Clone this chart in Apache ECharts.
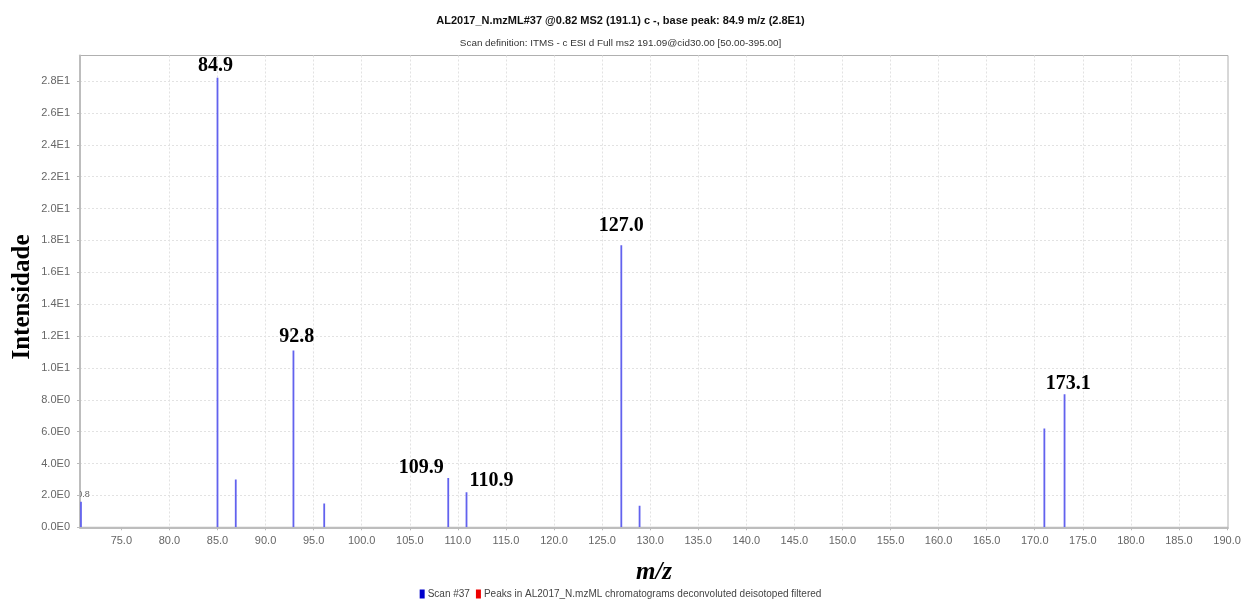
<!DOCTYPE html>
<html>
<head>
<meta charset="utf-8">
<script src="https://cdn.jsdelivr.net/npm/echarts@6/dist/echarts.min.js"></script>
<style>
html,body{margin:0;padding:0;background:#fff;}
#c{width:1241px;height:604px;}
</style>
</head>
<body>
<div id="c"></div>
<script>
// m/z positions of peaks
const peakMz = [70.8, 85.0, 86.9, 92.9, 96.1, 109.0, 110.9, 127.0, 128.9, 171.0, 173.1];
// intensities
const peakIntensity = [1.6, 28.2, 3.0, 11.1, 1.5, 3.1, 2.2, 17.7, 1.35, 6.2, 8.35];
// annotation texts
const peakLabels = ['70.8', '84.9', '', '92.8', '', '109.9', '110.9', '127.0', '', '', '173.1'];
// x tick values
const xTicks = [75, 80, 85, 90, 95, 100, 105, 110, 115, 120, 125, 130, 135, 140, 145, 150, 155, 160, 165, 170, 175, 180, 185, 190];
const titleText = 'AL2017_N.mzML#37 @0.82 MS2 (191.1) c -, base peak: 84.9 m/z (2.8E1)';
const subtitleText = 'Scan definition: ITMS - c ESI d Full ms2 191.09@cid30.00 [50.00-395.00]';
const yTitle = 'Intensidade';
const xTitle = 'm/z';
const seriesNames = ['Scan #37', 'Peaks in AL2017_N.mzML chromatograms deconvoluted deisotoped filtered'];

// label placement (style, not data)
const labelStyle = {
  '70.8': {dx: 0, dy: -7.5, small: true},
  '84.9': {dx: -2, dy: -11.6},
  '92.8': {dx: 3.4, dy: -13.7},
  '109.9': {dx: -27, dy: -10.3},
  '110.9': {dx: 25, dy: -11.8},
  '127.0': {dx: 0, dy: -19.4},
  '173.1': {dx: 3.7, dy: -10.6}
};

const data = peakMz.map((m, i) => [m, peakIntensity[i]]);

function fmtE(v) {
  const s = Number(v).toExponential(1);
  const parts = s.split('e');
  return parts[0] + 'E' + parseInt(parts[1], 10);
}

const chart = echarts.init(document.getElementById('c'), null, {renderer: 'canvas'});
chart.setOption({
  animation: false,
  backgroundColor: '#fff',
  title: [
    {text: titleText, left: 'center', top: 10,
     textStyle: {fontFamily: 'Liberation Sans', fontSize: 11, fontWeight: 'bold', color: '#111'}},
    {text: subtitleText, left: 'center', top: 33,
     textStyle: {fontFamily: 'Liberation Sans', fontSize: 9.9, fontWeight: 'normal', color: '#333'}}
  ],
  graphic: [{
    type: 'text', x: 23, y: 297, rotation: Math.PI / 2,
    style: {text: yTitle, font: 'bold 25px "Liberation Serif"', fill: '#000', align: 'center', verticalAlign: 'middle'}
  }],
  legend: {
    bottom: 0, left: 'center', itemWidth: 5, itemHeight: 9, itemGap: 6,
    icon: 'rect',
    textStyle: {fontFamily: 'Liberation Sans', fontSize: 10, color: '#444', padding: [0, 0, 0, -2]},
    data: seriesNames
  },
  grid: {left: 80, right: 13, top: 55.5, bottom: 76.7, show: true, borderColor: '#b0b0b0', borderWidth: 1,
    outerBoundsMode: 'none', containLabel: false},
  xAxis: {
    type: 'value', min: 70.7, max: 190.1,
    name: xTitle, nameLocation: 'middle', nameGap: 33,
    nameTextStyle: {fontFamily: 'Liberation Serif', fontSize: 25, fontWeight: 'bold', fontStyle: 'italic', color: '#000'},
    axisLine: {show: true, lineStyle: {color: '#bdbdbd', width: 2}},
    axisTick: {show: true, length: 3, lineStyle: {color: '#bbb'}, customValues: xTicks},
    axisLabel: {color: '#666', fontFamily: 'Liberation Sans', fontSize: 11, margin: 8,
      customValues: xTicks, formatter: v => Number(v).toFixed(1)},
    splitLine: {show: true, showMinLine: false, showMaxLine: false, lineStyle: {color: '#e2e2e2', type: [2, 2]}}
  },
  yAxis: {
    type: 'value', min: 0, max: 29.6, interval: 2,
    axisLine: {show: true, lineStyle: {color: '#bdbdbd', width: 2}},
    axisTick: {show: true, length: 3, lineStyle: {color: '#bbb'}},
    axisLabel: {color: '#666', fontFamily: 'Liberation Sans', fontSize: 11, margin: 10,
      showMaxLabel: false, formatter: v => fmtE(v)},
    splitLine: {show: true, showMinLine: false, showMaxLine: false, lineStyle: {color: '#e2e2e2', type: [2, 2]}}
  },
  series: [
    {
      name: seriesNames[0], type: 'custom', clip: true,
      itemStyle: {color: '#0000cc'},
      data: data,
      renderItem: function (params, api) {
        const x = api.value(0), y = api.value(1);
        const p0 = api.coord([x, 0]);
        const p1 = api.coord([x, y]);
        const children = [{
          type: 'line',
          shape: {x1: p0[0], y1: p0[1], x2: p1[0], y2: p1[1]},
          style: {stroke: '#6262ee', lineWidth: 1.8}
        }];
        const t = peakLabels[params.dataIndex];
        if (t) {
          const st = labelStyle[t] || {dx: 0, dy: -12};
          children.push({
            type: 'text',
            x: p1[0] + st.dx, y: p1[1] + st.dy,
            style: st.small ? {
              text: t, fill: '#666', font: '9px "Liberation Sans"', align: 'center', verticalAlign: 'middle'
            } : {
              text: t, fill: '#000', font: 'bold 20px "Liberation Serif"', align: 'center', verticalAlign: 'middle'
            }
          });
        }
        return {type: 'group', children: children};
      }
    },
    {
      name: seriesNames[1], type: 'custom', itemStyle: {color: '#ee0000'}, data: [],
      renderItem: function () { return {type: 'group', children: []}; }
    }
  ]
});
</script>
</body>
</html>
